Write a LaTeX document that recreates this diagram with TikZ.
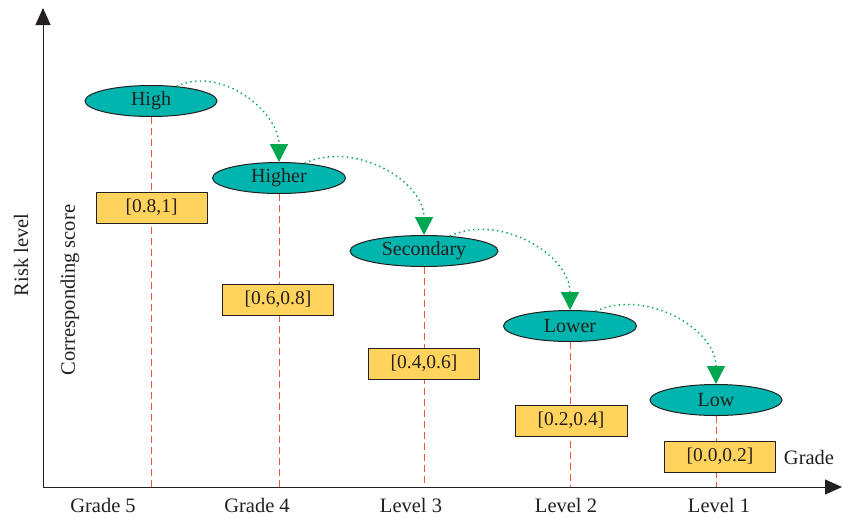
\documentclass[tikz,border=0pt]{standalone}
\usepackage{fontspec}
\setmainfont{Liberation Serif}
\usetikzlibrary{shapes.geometric,arrows.meta}
\definecolor{txt}{HTML}{231F20}
\definecolor{teal}{HTML}{00B5AD}
\definecolor{boxy}{HTML}{FFD35C}
\definecolor{dashred}{HTML}{F0553A}
\definecolor{arrgreen}{HTML}{00A650}
\tikzset{
  lvl/.style={ellipse, draw=txt, line width=1pt, fill=teal, minimum width=132pt, minimum height=31pt, inner sep=0pt, text=txt, font=\fontsize{20}{22}\selectfont},
  score/.style={rectangle, draw=txt, line width=1pt, fill=boxy, minimum width=111pt, minimum height=31pt, inner sep=0pt, text=txt, font=\fontsize{19.5}{22}\selectfont},
  guide/.style={dashred, dash pattern=on 7pt off 4pt, line width=1pt},
  flow/.style={arrgreen, line width=1.4pt, dash pattern=on 1.4pt off 3.4pt, -{Triangle[width=18pt,length=18pt]}},
  lab/.style={text=txt, font=\fontsize{20.5}{22}\selectfont, inner sep=0pt},
  axis/.style={txt, line width=1pt, -{Triangle[width=15pt,length=17pt]}}
}
\begin{document}
\begin{tikzpicture}[x=1pt,y=-1pt]
\useasboundingbox (0,0) rectangle (842,517);
% axes
\coordinate (O) at (43,487);
\coordinate (Ytop) at (43,8);
\coordinate (Xend) at (842,487);
% level ellipses
\node[lvl] (high) at (151,101) {High};
\node[lvl, minimum width=133pt] (higher) at (279,178) {Higher};
\node[lvl, minimum width=148pt] (secondary) at (424,251) {Secondary};
\node[lvl, minimum width=133pt] (lower) at (570,326) {Lower};
\node[lvl] (low) at (716,400) {Low};
% axis ground coordinates
\coordinate (g1) at (151,487);
\coordinate (g2) at (279,487);
\coordinate (g3) at (424,487);
\coordinate (g4) at (570,487);
\coordinate (g5) at (716,487);
% dashed guides (behind boxes)
\draw[guide] (high.south) -- (g1);
\draw[guide] (higher.south) -- (g2);
\draw[guide] (secondary.south) -- (g3);
\draw[guide] (lower.south) -- (g4);
\draw[guide] (low.south) -- (g5);
% score boxes
\node[score] (s1) at (151.5,207.5) {[0.8,1]};
\node[score] (s2) at (278,299.5) {[0.6,0.8]};
\node[score] (s3) at (424,363.5) {[0.4,0.6]};
\node[score, minimum width=112pt] (s4) at (571,420.5) {[0.2,0.4]};
\node[score, minimum width=111pt] (s5) at (720,456.5) {[0.0,0.2]};
% axes drawn
\draw[axis] (O) -- (Ytop);
\draw[axis] (O) -- (Xend);
% flow arrows
\draw[flow] (high.30) to[out=25,in=90] (higher.north);
\draw[flow] (higher.30) to[out=25,in=90] (secondary.north);
\draw[flow] (secondary.30) to[out=25,in=90] (lower.north);
\draw[flow] (lower.30) to[out=25,in=90] (low.north);
% labels
\node[lab] (x1) at (103,505) {Grade 5};
\node[lab] (x2) at (257,505) {Grade 4};
\node[lab] (x3) at (411,505) {Level 3};
\node[lab] (x4) at (566,505) {Level 2};
\node[lab] (x5) at (719,505) {Level 1};
\node[lab] (gr) at (809,457) {Grade};
\node[lab, rotate=90] (rl) at (21,255) {Risk level};
\node[lab, rotate=90] (cs) at (70,290) {Corresponding score};
\end{tikzpicture}
\end{document}
